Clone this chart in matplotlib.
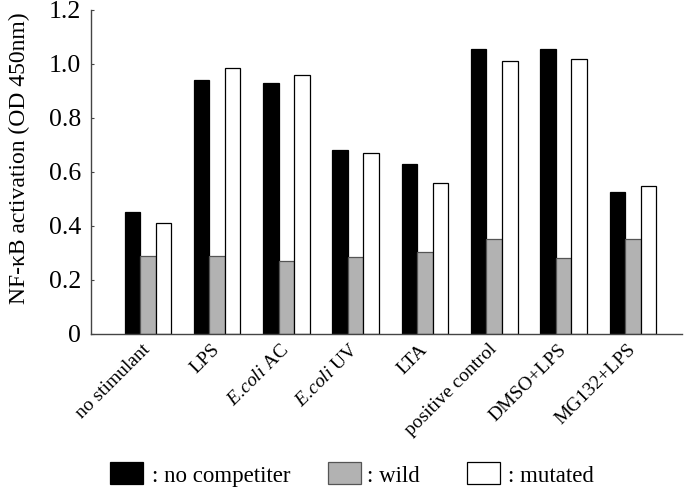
import numpy as np
import matplotlib
matplotlib.use("Agg")
import matplotlib.pyplot as plt
from matplotlib.patches import Rectangle
from matplotlib.transforms import ScaledTranslation

categories = ["no stimulant", "LPS", r"$\mathit{E.\!coli}$ AC", r"$\mathit{E.\!coli}$ UV",
              "LTA", "positive control", "DMSO+LPS", "MG132+LPS"]
no_competitor = [0.453, 0.942, 0.929, 0.680, 0.629, 1.057, 1.057, 0.526]
wild = [0.290, 0.289, 0.269, 0.284, 0.303, 0.352, 0.280, 0.352]
mutated = [0.412, 0.984, 0.961, 0.669, 0.558, 1.012, 1.020, 0.547]
yticks = [0, 0.2, 0.4, 0.6, 0.8, 1.0, 1.2]
yticklabels = ["0", "0.2", "0.4", "0.6", "0.8", "1.0", "1.2"]
series_names = [": no competiter", ": wild", ": mutated"]

plt.rcParams['font.family'] = ['Liberation Serif', 'DejaVu Serif']
plt.rcParams['mathtext.fontset'] = 'custom'
plt.rcParams['mathtext.rm'] = 'Liberation Serif'
plt.rcParams['mathtext.it'] = 'Liberation Serif:italic'

fig = plt.figure(figsize=(6.85, 4.88), dpi=100)
W, H = 685, 488
ax = fig.add_axes([91 / W, (H - 334) / H, (682 - 91) / W, (334 - 10) / H])

x = np.arange(len(categories))
w = 0.224
colors = ["#000000", "#b2b2b2", "#ffffff"]
edges = ["#000000", "#555555", "#000000"]
for i, (vals, c, e) in enumerate(zip([no_competitor, wild, mutated], colors, edges)):
    ax.bar(x + (i - 1) * w, vals, width=w, color=c, edgecolor=e, linewidth=0.9)

ax.set_xlim(-0.82, 7.71)
ax.set_ylim(0, 1.2)
ax.set_yticks(yticks)
ax.set_yticklabels(yticklabels, fontsize=18.5)
ax.tick_params(axis='y', direction='in', length=2.5, width=0.8, color='#444444', pad=7)
ax.set_xticks(x)
ax.set_xticklabels(categories, rotation=45, ha='right', fontsize=14)
ax.tick_params(axis='x', length=0, pad=5)
offset = ScaledTranslation(0.06, 0, fig.dpi_scale_trans)
for lab in ax.get_xticklabels():
    lab.set_transform(lab.get_transform() + offset)

for s in ['top', 'right']:
    ax.spines[s].set_visible(False)
for s in ['left', 'bottom']:
    ax.spines[s].set_color('#444444')
    ax.spines[s].set_linewidth(1.0)

ax.set_ylabel("NF-κB activation (OD 450nm)", fontsize=17)
ax.yaxis.set_label_coords(-0.103, 0.543)

# legend drawn manually
sq_x = [110, 327.7, 467]
txt_x = [151.7, 366.7, 508]
for sx, tx, c, e, name in zip(sq_x, txt_x, colors, edges, series_names):
    fig.patches.append(Rectangle((sx / W, (H - 484.3) / H), 33 / W, 22 / H,
                                 transform=fig.transFigure, facecolor=c,
                                 edgecolor=e, linewidth=0.9))
    fig.text(tx / W, (H - 482.3) / H, name, fontsize=16.5, va='baseline', ha='left')

fig.savefig("out.png", dpi=100)
